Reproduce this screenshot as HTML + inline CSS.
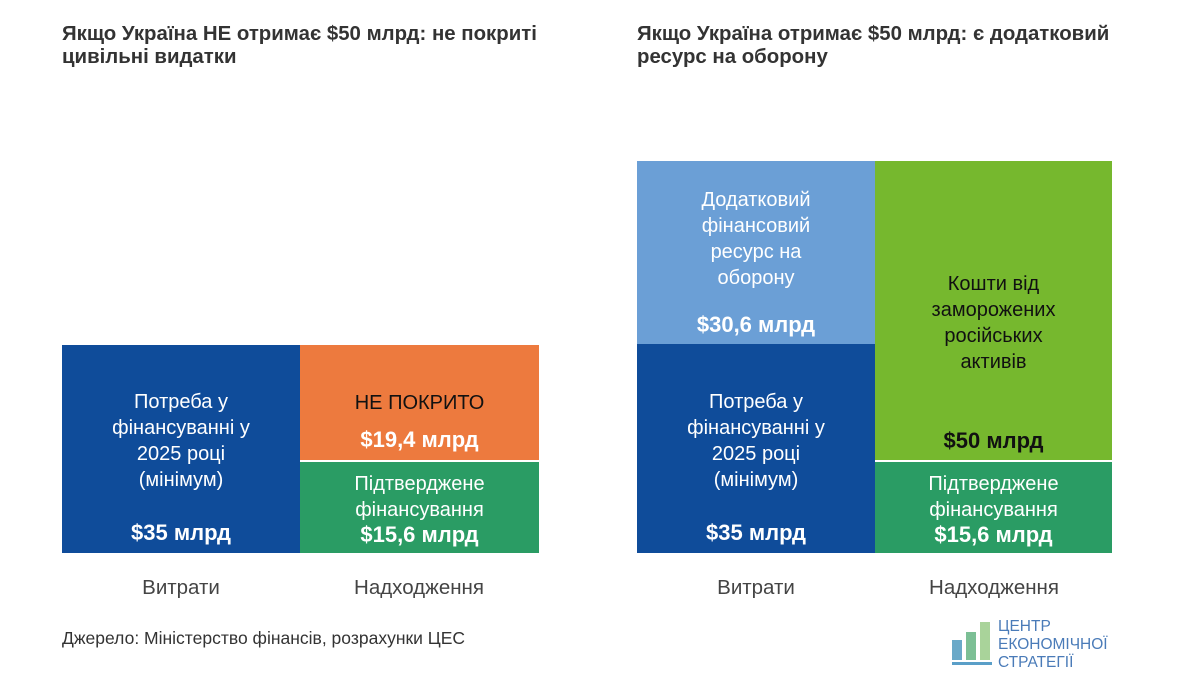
<!DOCTYPE html>
<html><head><meta charset="utf-8"><style>
body{margin:0;width:1200px;height:691px;background:#fff;position:relative;overflow:hidden;font-family:"Liberation Sans","DejaVu Sans",sans-serif}
.t{position:absolute;font-weight:bold;font-size:20.4px;color:#333;line-height:23px}
.b{position:absolute;color:#fff;text-align:center;font-size:20px;line-height:26px;box-sizing:border-box}
.bb{font-weight:bold;font-size:22px}
.lbl{position:absolute;font-size:20.5px;color:#444;text-align:center;width:238px}
</style></head><body>
<div class="t" style="left:62px;top:23px">Якщо Україна НЕ отримає $50 млрд: не покриті<br>цивільні видатки</div>
<div class="t" style="left:637px;top:23px">Якщо Україна отримає $50 млрд: є додатковий<br>ресурс на оборону</div>

<div class="b" style="left:62px;top:345px;width:238px;height:208px;background:#0f4c9a">
<div style="position:absolute;top:44px;width:100%">Потреба у<br>фінансуванні у<br>2025 році<br>(мінімум)</div>
<div class="bb" style="position:absolute;top:175px;width:100%">$35 млрд</div></div>
<div class="b" style="left:300px;top:345px;width:239px;height:115px;background:#ed7a3e">
<div style="position:absolute;top:45px;width:100%;color:#111">НЕ ПОКРИТО</div>
<div class="bb" style="position:absolute;top:82px;width:100%">$19,4 млрд</div></div>
<div class="b" style="left:300px;top:462px;width:239px;height:91px;background:#2a9c64">
<div style="position:absolute;top:9px;width:100%">Підтверджене<br>фінансування</div>
<div class="bb" style="position:absolute;top:60px;width:100%">$15,6 млрд</div></div>
<div class="lbl" style="left:62px;top:576px">Витрати</div>
<div class="lbl" style="left:300px;top:576px">Надходження</div>

<div class="b" style="left:637px;top:161px;width:238px;height:183px;background:#6b9fd6">
<div style="position:absolute;top:26px;width:100%">Додатковий<br>фінансовий<br>ресурс на<br>оборону</div>
<div class="bb" style="position:absolute;top:151px;width:100%">$30,6 млрд</div></div>
<div class="b" style="left:637px;top:344px;width:238px;height:209px;background:#0f4c9a">
<div style="position:absolute;top:45px;width:100%">Потреба у<br>фінансуванні у<br>2025 році<br>(мінімум)</div>
<div class="bb" style="position:absolute;top:176px;width:100%">$35 млрд</div></div>
<div class="b" style="left:875px;top:161px;width:237px;height:299px;background:#76b82e;color:#111">
<div style="position:absolute;top:110px;width:100%">Кошти від<br>заморожених<br>російських<br>активів</div>
<div class="bb" style="position:absolute;top:267px;width:100%">$50 млрд</div></div>
<div class="b" style="left:875px;top:462px;width:237px;height:91px;background:#2a9c64">
<div style="position:absolute;top:9px;width:100%">Підтверджене<br>фінансування</div>
<div class="bb" style="position:absolute;top:60px;width:100%">$15,6 млрд</div></div>
<div class="lbl" style="left:637px;top:576px">Витрати</div>
<div class="lbl" style="left:875px;top:576px">Надходження</div>

<div style="position:absolute;left:62px;top:628px;font-size:17.5px;color:#333">Джерело: Міністерство фінансів, розрахунки ЦЕС</div>

<div style="position:absolute;left:952px;top:640px;width:10px;height:20px;background:#6aa9c8"></div>
<div style="position:absolute;left:966px;top:632px;width:10px;height:28px;background:#7cbf95"></div>
<div style="position:absolute;left:980px;top:622px;width:10px;height:38px;background:#a9d39a"></div>
<div style="position:absolute;left:952px;top:662px;width:40px;height:3px;background:#5a9fc8"></div>
<div style="position:absolute;left:998px;top:618px;font-size:15.5px;line-height:18px;color:#4a7bb8">ЦЕНТР<br>ЕКОНОМІЧНОЇ<br>СТРАТЕГІЇ</div>
</body></html>
